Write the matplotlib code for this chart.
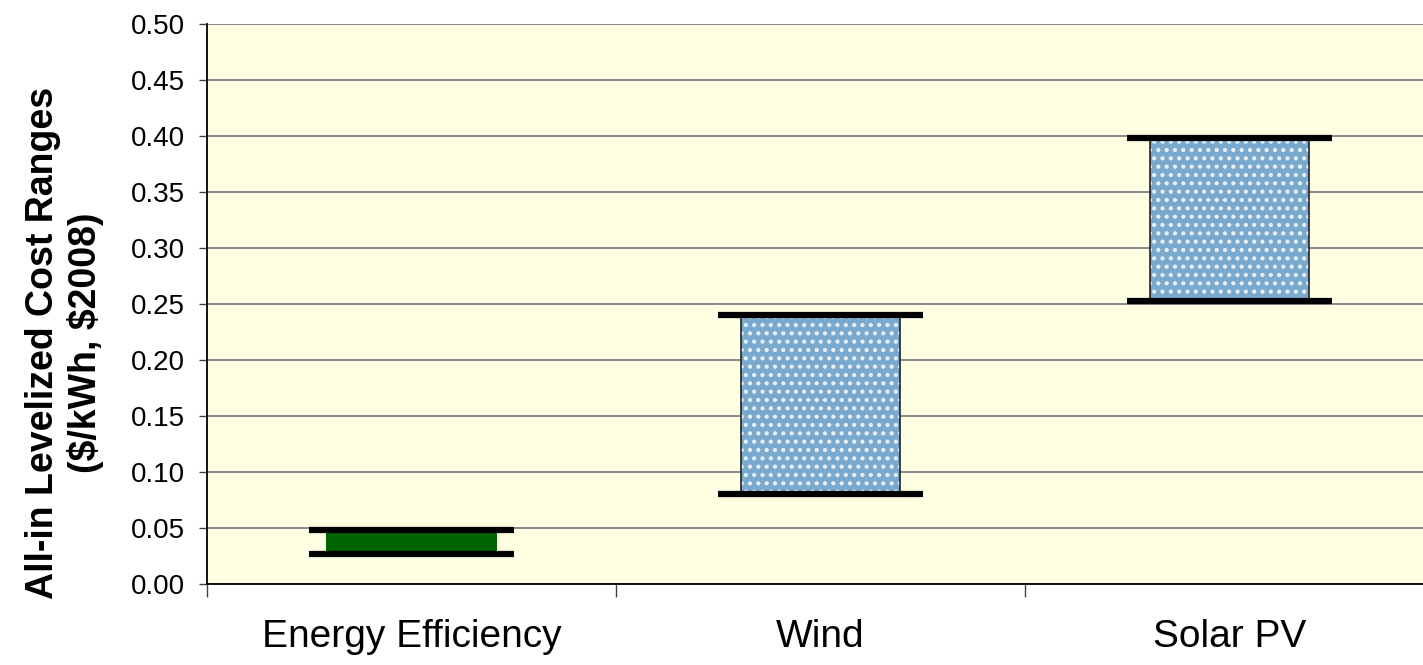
import numpy as np
import matplotlib.pyplot as plt

# cost ranges, $/kWh ($2008)
categories = ['Energy Efficiency', 'Wind', 'Solar PV']
low = [0.027, 0.080, 0.253]
high = [0.048, 0.240, 0.398]
yticks = [0.00, 0.05, 0.10, 0.15, 0.20, 0.25, 0.30, 0.35, 0.40, 0.45, 0.50]

plt.rcParams['font.family'] = ['Liberation Sans', 'DejaVu Sans']
plt.rcParams['hatch.linewidth'] = 1.8

fig = plt.figure(figsize=(14.23, 6.65), dpi=100)
ax = fig.add_axes([207/1423, 81/665, 3*409/1423, 560/665])
ax.set_facecolor('#ffffe3')

x = np.arange(len(categories))
h = np.array(high) - np.array(low)

ax.set_axisbelow(True)
ax.grid(axis='y', color='#808080', linewidth=1.3)

# green bar for EE, dotted blue boxes for the rest
ax.bar(x[0], h[0], bottom=low[0], width=0.42, color='#006400', linewidth=0, zorder=2)
ax.bar(x[1:], h[1:], bottom=low[1:], width=0.39, color='#7aa9cf',
       hatch='..', edgecolor='#e8f0f8', linewidth=0, zorder=2)
ax.bar(x[1:], h[1:], bottom=low[1:], width=0.39, fill=False,
       edgecolor='#222222', linewidth=1.2, zorder=3)

# min / max markers
ax.hlines(low, x - 0.25, x + 0.25, color='black', linewidth=4.5, capstyle='butt', zorder=4)
ax.hlines(high, x - 0.25, x + 0.25, color='black', linewidth=4.5, capstyle='butt', zorder=4)

ax.set_xlim(-0.5, 2.5)
ax.set_ylim(0, 0.5)
ax.set_yticks(yticks)
ax.set_yticklabels(['%.2f' % v for v in yticks], fontsize=20)
ax.set_xticks(x)
ax.set_xticklabels(categories, fontsize=28)
ax.tick_params(axis='x', length=0, pad=25)
ax.set_xticks([-0.5, 0.5, 1.5, 2.5], minor=True)
ax.tick_params(axis='x', which='minor', length=9.5, width=1, color='#444444')
ax.tick_params(axis='y', length=6, width=1, color='#444444', pad=10)

ax.spines['top'].set_visible(False)
ax.spines['right'].set_visible(False)
ax.spines['left'].set_linewidth(1.3)
ax.spines['bottom'].set_linewidth(1.3)

ax.set_ylabel('All-in Levelized Cost Ranges\n(\\$/kWh, \\$2008)', fontsize=27,
              fontweight='bold', linespacing=1.2)
ax.yaxis.set_label_coords(-0.084, 0.43)

fig.savefig('out.png', dpi=100)
